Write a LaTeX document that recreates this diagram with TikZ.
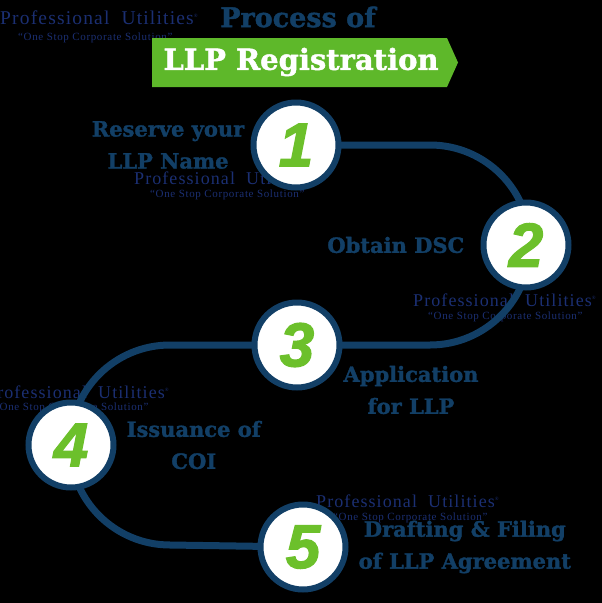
\documentclass[tikz,border=0pt]{standalone}
\usepackage{fontspec}
\setmainfont[BoldFeatures={FakeBold=1.5}]{DejaVu Serif}
\newfontfamily\markfont[LetterSpace=6]{Liberation Serif}
\newfontfamily\numfont[BoldItalicFeatures={FakeBold=2}]{Liberation Sans}
\usetikzlibrary{positioning}

\definecolor{llpblue}{HTML}{123F66}
\definecolor{markblue}{HTML}{1B2F72}
\definecolor{bannergreen}{HTML}{5EB82A}
\definecolor{numgreen}{HTML}{6CC02B}

\tikzset{
  stepcircle/.style={circle,draw=llpblue,line width=6pt,fill=white,minimum size=85pt,inner sep=0pt,
    font=\numfont\bfseries\itshape\fontsize{62}{62}\selectfont,text=numgreen},
  steptext/.style={font=\bfseries\fontsize{21}{32}\selectfont,text=llpblue,align=center,inner sep=0pt},
  pathline/.style={draw=llpblue,line width=7pt},
  markname/.style={font=\markfont\fontsize{18}{18}\selectfont,text=markblue,inner sep=0pt,anchor=west},
  markquote/.style={font=\markfont\fontsize{11}{11}\selectfont,text=markblue,inner sep=0pt,anchor=west}
}

\begin{document}
\begin{tikzpicture}[x=1pt,y=-1pt]
\fill[black] (0,0) rectangle (602,603);
\useasboundingbox (0,0) rectangle (602,603);

% watermarks
\node[markname,font=\markfont\fontsize{19.5}{19.5}\selectfont] (wm0) at (0,18) {Professional\ \ Utilities\textsuperscript{\tiny\textregistered}};
\node[markquote] (wq0) at (18,38) {“One\ Stop\ Corporate\ Solution”};
\node[markname] (wm1) at (134,178) {Professional\ \ Utilities\textsuperscript{\tiny\textregistered}};
\node[markquote] (wq1) at (150,195) {“One\ Stop\ Corporate\ Solution”};
\node[markname] (wm2) at (413,300) {Professional\ \ Utilities\textsuperscript{\tiny\textregistered}};
\node[markquote] (wq2) at (428,317) {“One\ Stop\ Corporate\ Solution”};
\node[markname] (wm4) at (-14,392) {Professional\ \ Utilities\textsuperscript{\tiny\textregistered}};
\node[markquote] (wq4) at (-6,408) {“One\ Stop\ Corporate\ Solution”};
\node[markname] (wm5) at (316,501) {Professional\ \ Utilities\textsuperscript{\tiny\textregistered}};
\node[markquote] (wq5) at (333,518) {“One\ Stop\ Corporate\ Solution”};

% title
\node[font=\bfseries\fontsize{27}{27}\selectfont,text=llpblue,inner sep=0pt] (title) at (298,17) {Process of};
\fill[bannergreen] (152,38) -- (447,38) -- (458,62.5) -- (447,87) -- (152,87) -- cycle;
\node[font=\bfseries\fontsize{29}{29}\selectfont,text=white,inner sep=0pt] (banner) at (301,62) {LLP Registration};

% winding road
\coordinate (c1) at (296,145);
\coordinate (c2) at (526,245);
\coordinate (c3) at (297,345);
\coordinate (c4) at (71,445);
\coordinate (c5) at (303,547);
\draw[pathline] (c1) -- (430,145) arc[start angle=-90,end angle=90,radius=100]
  -- (170,345) arc[start angle=-90,end angle=-270,radius=100] -- (c5);

\node[stepcircle] (n1) at (c1) {1};
\node[stepcircle] (n2) at (c2) {2};
\node[stepcircle] (n3) at (c3) {3};
\node[stepcircle] (n4) at (c4) {4};
\node[stepcircle] (n5) at (c5) {5};

% step labels
\node[steptext,left=6pt of n1] (t1) {Reserve your\\LLP Name};
\node[steptext,left=16pt of n2] (t2) {Obtain DSC};
\node[steptext] (t3) at (411,390) {Application\\for LLP};
\node[steptext,right=10pt of n4] (t4) {Issuance of\\COI};
\node[steptext,right=10pt of n5] (t5) {Drafting \& Filing\\of LLP Agreement};
\end{tikzpicture}
\end{document}
